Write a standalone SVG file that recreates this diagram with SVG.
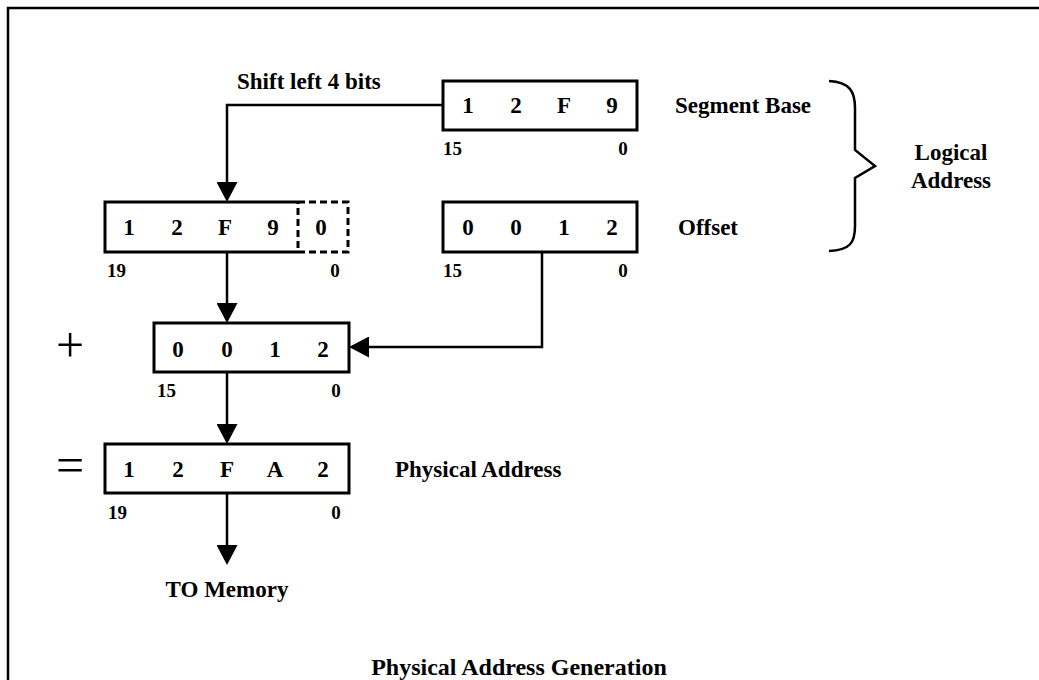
<svg xmlns="http://www.w3.org/2000/svg" width="1039" height="680" viewBox="0 0 1039 680">
<style>
text{font-family:"Liberation Serif","Times New Roman",serif;font-weight:bold;fill:#000}
.d{font-size:23px;text-anchor:middle}
.l{font-size:23px}
.s{font-size:19px}
.box{fill:none;stroke:#000;stroke-width:3}
.dash{fill:none;stroke:#000;stroke-width:3;stroke-dasharray:7 4}
.con{fill:none;stroke:#000;stroke-width:2.5}
.sym{font-family:"Liberation Serif",serif;font-weight:normal;font-size:50px;text-anchor:middle}
</style>
<defs>
<marker id="ah" viewBox="0 0 20 21" markerWidth="20" markerHeight="21" refX="16" refY="10.5" orient="auto" markerUnits="userSpaceOnUse">
<path d="M0,0 L20,10.5 L0,21 z" fill="#000"/>
</marker>
</defs>
<rect width="1039" height="680" fill="#fff"/>
<path d="M8,680 V8 H1039" fill="none" stroke="#000" stroke-width="2.5"/>

<g id="segment-base">
<rect class="box" x="443" y="81" width="194" height="49"/>
<text class="d" x="468" y="113">1</text>
<text class="d" x="516" y="113">2</text>
<text class="d" x="564" y="113">F</text>
<text class="d" x="612" y="113">9</text>
<text class="s" x="443" y="155">15</text>
<text class="s" x="623" y="155" text-anchor="middle">0</text>
<text class="l" x="675" y="113">Segment Base</text>
</g>

<g id="offset">
<rect class="box" x="443" y="202" width="194" height="50"/>
<text class="d" x="468" y="235">0</text>
<text class="d" x="516" y="235">0</text>
<text class="d" x="564" y="235">1</text>
<text class="d" x="612" y="235">2</text>
<text class="s" x="443" y="277">15</text>
<text class="s" x="623" y="277" text-anchor="middle">0</text>
<text class="l" x="678" y="235">Offset</text>
</g>

<g id="logical-address">
<path d="M829,81 C850,82 855,92 855,108 V150 L875,166 L855,178 V226 C855,243 850,250 829,251" fill="none" stroke="#000" stroke-width="2.5"/>
<text class="l" x="951" y="160" text-anchor="middle">Logical</text>
<text class="l" x="951" y="188" text-anchor="middle">Address</text>
</g>

<g id="shifted">
<path class="box" d="M298,202 H105 V252 H298"/>
<path class="dash" d="M298,202 H348 V252 H298 V202"/>
<text class="d" x="129" y="235">1</text>
<text class="d" x="177" y="235">2</text>
<text class="d" x="225" y="235">F</text>
<text class="d" x="273" y="235">9</text>
<text class="d" x="321" y="235">0</text>
<text class="s" x="107" y="277">19</text>
<text class="s" x="335" y="277" text-anchor="middle">0</text>
</g>

<g id="adder">
<text class="sym" x="70" y="362">+</text>
<rect class="box" x="154" y="323" width="195" height="49"/>
<text class="d" x="178" y="357">0</text>
<text class="d" x="227" y="357">0</text>
<text class="d" x="275" y="357">1</text>
<text class="d" x="323" y="357">2</text>
<text class="s" x="157" y="397">15</text>
<text class="s" x="336" y="397" text-anchor="middle">0</text>
</g>

<g id="physical">
<text class="sym" x="70" y="482">=</text>
<rect class="box" x="105" y="444" width="244" height="49"/>
<text class="d" x="129" y="477">1</text>
<text class="d" x="178" y="477">2</text>
<text class="d" x="227" y="477">F</text>
<text class="d" x="275" y="477">A</text>
<text class="d" x="323" y="477">2</text>
<text class="s" x="108" y="519">19</text>
<text class="s" x="336" y="519" text-anchor="middle">0</text>
<text class="l" x="395" y="477">Physical Address</text>
</g>

<g id="memory">
<text class="l" x="227" y="597" text-anchor="middle">TO Memory</text>
</g>

<g id="connectors">
<path class="con" d="M443,105 H227 V198" marker-end="url(#ah)"/>
<path class="con" d="M227,252 V319" marker-end="url(#ah)"/>
<path class="con" d="M542,252 V347 H353" marker-end="url(#ah)"/>
<path class="con" d="M227,372 V440" marker-end="url(#ah)"/>
<path class="con" d="M227,493 V561" marker-end="url(#ah)"/>
</g>

<text class="l" x="237" y="89">Shift left 4 bits</text>
<text x="519" y="675" text-anchor="middle" style="font-size:24px">Physical Address Generation</text>
</svg>
